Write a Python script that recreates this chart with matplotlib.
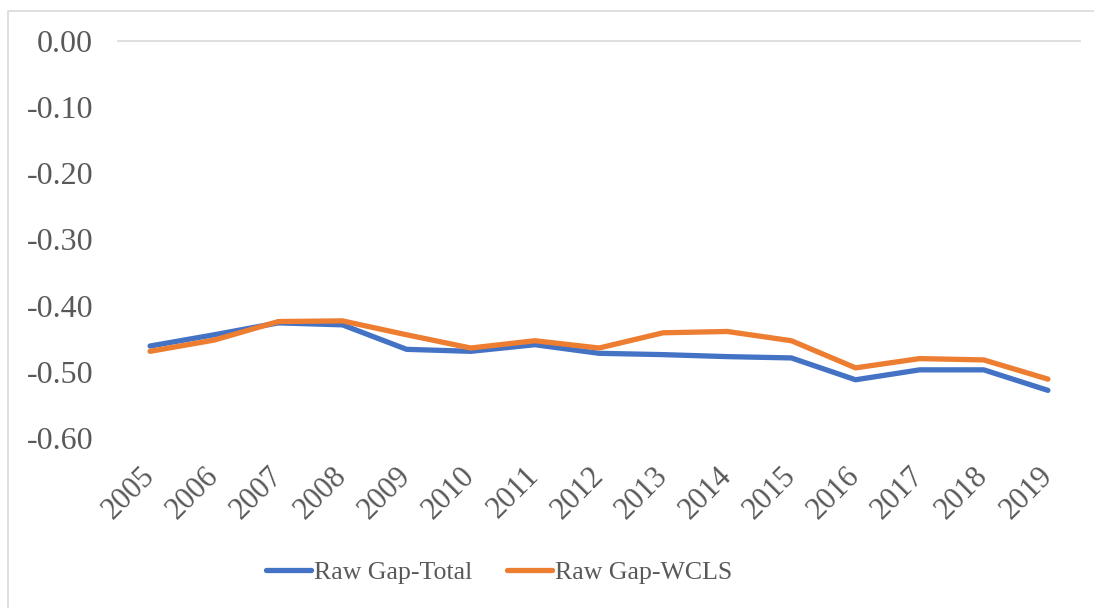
import matplotlib.pyplot as plt
from matplotlib.patches import Rectangle

# data
years = ['2005', '2006', '2007', '2008', '2009', '2010', '2011', '2012',
         '2013', '2014', '2015', '2016', '2017', '2018', '2019']
raw_gap_total = [-0.461, -0.444, -0.426, -0.429, -0.466, -0.469, -0.459, -0.472,
                 -0.474, -0.477, -0.479, -0.512, -0.497, -0.497, -0.528]
raw_gap_wcls = [-0.469, -0.452, -0.424, -0.423, -0.444, -0.464, -0.453, -0.464,
                -0.441, -0.439, -0.453, -0.494, -0.480, -0.482, -0.511]

W, H = 1094, 608
fig = plt.figure(figsize=(W / 100, H / 100), dpi=100)
plt.rcParams['font.family'] = ['Liberation Serif', 'DejaVu Serif']

# chart border (extends past right and bottom edge)
fig.patches.append(Rectangle((8 / W, -0.1), 1.2, 1 - 11 / H + 0.1,
                             transform=fig.transFigure, fill=False,
                             edgecolor='#D9D9D9', linewidth=1.2))

ax = fig.add_axes([118 / W, 1 - 438 / H, (1080 - 118) / W, (438 - 41) / H])
x = list(range(len(years)))
ax.plot(x, raw_gap_total, color='#4472C4', linewidth=3.8,
        solid_capstyle='round', label='Raw Gap-Total')
ax.plot(x, raw_gap_wcls, color='#ED7D31', linewidth=3.8,
        solid_capstyle='round', label='Raw Gap-WCLS')

ax.set_xlim(-0.5, len(years) - 0.5)
ax.set_ylim(-0.6, 0.0)
ax.set_yticks([0.0, -0.1, -0.2, -0.3, -0.4, -0.5, -0.6])
ax.set_yticklabels(['0.00', '-0.10', '-0.20', '-0.30', '-0.40', '-0.50', '-0.60'])
ax.set_xticks(x)
ax.set_xticklabels(years, rotation=45, ha='right', va='center',
                   rotation_mode='anchor')

for s in ['left', 'right', 'bottom']:
    ax.spines[s].set_visible(False)
ax.spines['top'].set_color('#D9D9D9')
ax.spines['top'].set_linewidth(1.2)
ax.tick_params(axis='both', length=0, labelsize=23, colors='#595959')
ax.tick_params(axis='y', pad=18)
ax.tick_params(axis='x', pad=24, labelsize=22)

fig.legend(loc='center', bbox_to_anchor=(499 / W, 1 - 572 / H), ncol=2,
           frameon=False, fontsize=18.6, handlelength=1.75, handletextpad=0.1,
           columnspacing=1.35, labelcolor='#595959', borderpad=0)

fig.savefig('out.png', dpi=100)
